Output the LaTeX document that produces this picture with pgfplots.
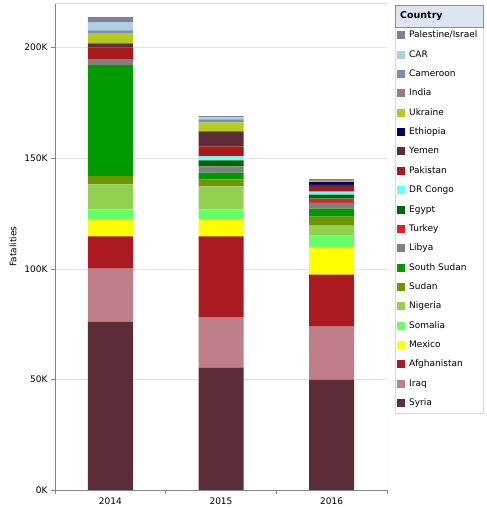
\documentclass[border=0pt]{standalone}
\usepackage{fontspec}
\setmainfont{DejaVu Sans}
\usepackage{pgfplots}
\pgfplotsset{compat=1.18}

\definecolor{cSyria}{HTML}{5C2D38}
\definecolor{cIraq}{HTML}{C07D8A}
\definecolor{cAfghanistan}{HTML}{AB1A21}
\definecolor{cMexico}{HTML}{FFFF00}
\definecolor{cSomalia}{HTML}{66FF66}
\definecolor{cNigeria}{HTML}{92D050}
\definecolor{cSudan}{HTML}{6E9600}
\definecolor{cSouthSudan}{HTML}{009900}
\definecolor{cLibya}{HTML}{808080}
\definecolor{cTurkey}{HTML}{E0202A}
\definecolor{cEgypt}{HTML}{006600}
\definecolor{cDRCongo}{HTML}{66FFFF}
\definecolor{cPakistan}{HTML}{A8191E}
\definecolor{cYemen}{HTML}{5C2D38}
\definecolor{cEthiopia}{HTML}{000066}
\definecolor{cUkraine}{HTML}{B5C91F}
\definecolor{cIndia}{HTML}{A07880}
\definecolor{cCameroon}{HTML}{7B8DB5}
\definecolor{cCAR}{HTML}{AECFDF}
\definecolor{cPalestine}{HTML}{7F7F9A}
\definecolor{axisgray}{HTML}{868686}
\definecolor{gridgray}{HTML}{E3E3E3}
\definecolor{framegray}{HTML}{D9D9D9}
\definecolor{titlefill}{HTML}{DCE6F2}
\definecolor{titledraw}{HTML}{4F9FBF}

\newcommand{\chartfont}{\fontsize{9bp}{11bp}\selectfont}

\begin{document}
\begin{tikzpicture}
\path[use as bounding box] (0bp,0bp) rectangle (487bp,510bp);
\begin{axis}[
  at={(55bp,20bp)}, anchor=south west,
  scale only axis, width=332bp, height=486.7bp,
  ybar stacked, bar width=45bp,
  legend image code/.code={\fill[#1] (0bp,-4bp) rectangle (8bp,4bp);},
  xmin=-0.5, xmax=2.5, ymin=0, ymax=220000,
  xtick={0,1,2}, xticklabels={2014,2015,2016},
  minor xtick={-0.5,0.5,1.5,2.5},
  ytick={0,50000,100000,150000,200000},
  yticklabels={0K,50K,100K,150K,200K},
  scaled y ticks=false,
  /pgf/number format/assume math mode=true,
  axis x line*=bottom, axis y line*=left,
  axis line style={draw=axisgray,-},
  tick align=outside,
  major x tick style={draw=none},
  major tick length=4bp, minor tick length=4bp,
  every tick/.style={draw=axisgray},
  ymajorgrids, grid style={draw=gridgray},
  ticklabel style={font=\chartfont, text=black},
  ylabel={Fatalities},
  ylabel style={font=\chartfont, at={(axis description cs:-0.1265,0.5)}, anchor=center},
  reverse legend,
  legend style={at={(1.0271,0.9513)}, anchor=north west, draw=none, fill=none,
    font=\chartfont, inner xsep=1bp, inner ysep=3.5bp, row sep=10.37bp,
    nodes={inner sep=0pt, text height=7bp, text depth=2bp},
    /tikz/every odd column/.append style={column sep=4bp}},
  legend cell align=left,
]
\addplot[fill=cSyria, draw=none] coordinates {(0,76100) (1,55200) (2,49800)};
\addplot[fill=cIraq, draw=none] coordinates {(0,24000) (1,22700) (2,24000)};
\addplot[fill=cAfghanistan, draw=none] coordinates {(0,14500) (1,36700) (2,23600)};
\addplot[fill=cMexico, draw=none] coordinates {(0,7700) (1,7700) (2,12200)};
\addplot[fill=cSomalia, draw=none] coordinates {(0,4500) (1,4500) (2,5400)};
\addplot[fill=cNigeria, draw=none] coordinates {(0,11400) (1,10500) (2,4500)};
\addplot[fill=cSudan, draw=none] coordinates {(0,3700) (1,3100) (2,4100)};
\addplot[fill=cSouthSudan, draw=none] coordinates {(0,50200) (1,3100) (2,3600)};
\addplot[fill=cLibya, draw=none] coordinates {(0,2700) (1,2800) (2,2700)};
\addplot[fill=cTurkey, draw=none] coordinates {(0,0) (1,0) (2,1800)};
\addplot[fill=cEgypt, draw=none] coordinates {(0,0) (1,2700) (2,1800)};
\addplot[fill=cDRCongo, draw=none] coordinates {(0,0) (1,1800) (2,1400)};
\addplot[fill=cPakistan, draw=none] coordinates {(0,5300) (1,4500) (2,2100)};
\addplot[fill=cYemen, draw=none] coordinates {(0,1800) (1,6800) (2,1000)};
\addplot[fill=cEthiopia, draw=none] coordinates {(0,0) (1,0) (2,1000)};
\addplot[fill=cUkraine, draw=none] coordinates {(0,4600) (1,4100) (2,800)};
\addplot[fill=cIndia, draw=none] coordinates {(0,0) (1,0) (2,900)};
\addplot[fill=cCameroon, draw=none] coordinates {(0,1300) (1,1300) (2,0)};
\addplot[fill=cCAR, draw=none] coordinates {(0,3700) (1,900) (2,0)};
\addplot[fill=cPalestine, draw=none] coordinates {(0,2200) (1,600) (2,0)};
\legend{Syria,Iraq,Afghanistan,Mexico,Somalia,Nigeria,Sudan,South Sudan,Libya,Turkey,Egypt,DR Congo,Pakistan,Yemen,Ethiopia,Ukraine,India,Cameroon,CAR,Palestine/Israel}
\draw[framegray] (rel axis cs:0,1) -- (rel axis cs:1,1) -- (rel axis cs:1,0);
\end{axis}
% legend frame and title box
\draw[framegray] (395bp,97bp) rectangle (482.7bp,483bp);
\draw[titledraw, fill=titlefill] (395bp,483bp) rectangle (482.7bp,505bp);
\node[anchor=west, font=\fontsize{9.5bp}{11bp}\selectfont\bfseries, inner sep=0pt] at (400bp,494bp) {Country};
\end{tikzpicture}
\end{document}
